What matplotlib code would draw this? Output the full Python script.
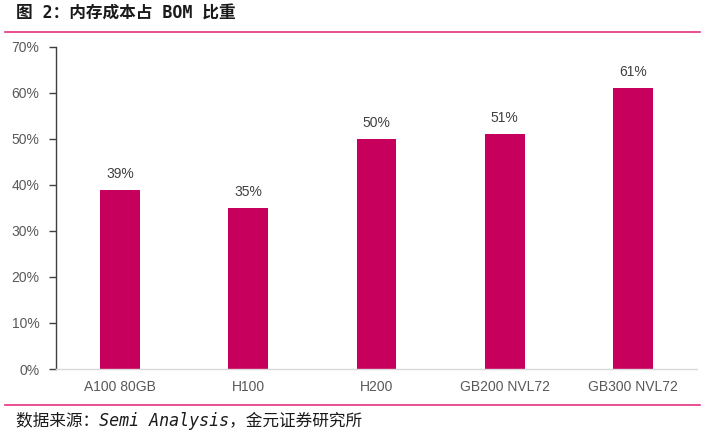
import matplotlib
matplotlib.use("Agg")
import matplotlib.pyplot as plt
from matplotlib.font_manager import fontManager

names = {f.name for f in fontManager.ttflist}
narrow = 'Liberation Sans Narrow' if 'Liberation Sans Narrow' in names else 'Liberation Sans'

categories = ["A100 80GB", "H100", "H200", "GB200 NVL72", "GB300 NVL72"]
values = [39, 35, 50, 51, 61]
yticks = [0, 10, 20, 30, 40, 50, 60, 70]

bar_color = "#C7005E"
pink = "#E8307F"
grey = "#595959"

fig = plt.figure(figsize=(7.10, 4.36), dpi=100)
ax = fig.add_axes([56/710, 1-369/436, (697-56)/710, (369-47)/436])

x = list(range(len(categories)))
ax.bar(x, values, width=0.31, color=bar_color, zorder=2)
ax.set_xlim(-0.5, len(categories) - 0.5)
ax.set_ylim(0, 70)
ax.set_yticks(yticks)
ax.set_yticklabels([f"{v}%" for v in yticks], fontsize=10, color=grey, family=narrow)
ax.set_xticks(x)
ax.set_xticklabels(categories, fontsize=10, color=grey, family=narrow)

for xi, v in zip(x, values):
    ax.text(xi, v + 3.5, f"{v}%", ha="center", va="center", fontsize=10,
            color="#404040", family=narrow)

for s in ["top", "right"]:
    ax.spines[s].set_visible(False)
ax.spines["left"].set_color("#404040")
ax.spines["left"].set_linewidth(1.0)
ax.spines["bottom"].set_color("#D9D9D9")
ax.spines["bottom"].set_linewidth(1.0)
ax.tick_params(axis="y", length=5, width=1, color="#404040", pad=7)
ax.tick_params(axis="x", length=0, pad=8)

fig.text(16/710, 1-14/436, "图 2：内存成本占 BOM 比重", fontsize=12, fontweight="bold",
         family=["DejaVu Sans Mono", "Noto Sans CJK SC"], va="center", ha="left", color="#1a1a1a")
fig.add_artist(plt.Line2D([5/710, 700/710], [1-32/436, 1-32/436], color=pink, lw=1.2))
fig.add_artist(plt.Line2D([5/710, 700/710], [1-405/436, 1-405/436], color=pink, lw=1.2))
fig.text(16/710, 1-421/436, "数据来源：Semi Analysis，金元证券研究所", fontsize=12, style="italic",
         family=["DejaVu Sans Mono", "Noto Sans CJK SC"], va="center", ha="left", color="#1a1a1a")

fig.savefig("out.png", dpi=100)
